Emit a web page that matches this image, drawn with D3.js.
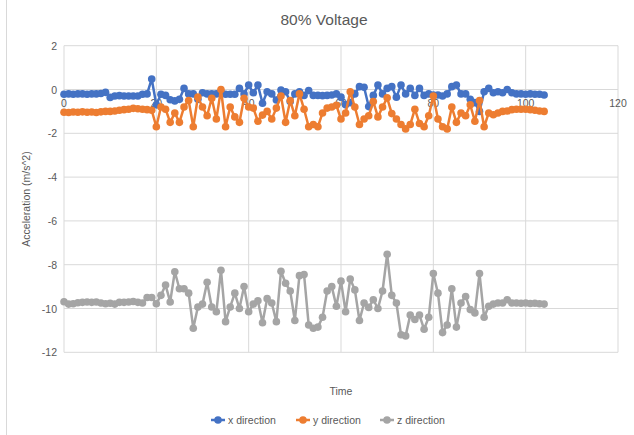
<!DOCTYPE html>
<html>
<head>
<meta charset="utf-8">
<script src="https://cdn.jsdelivr.net/npm/d3@7"></script>
<style>
  body { margin: 0; background: #fff; }
  text { font-family: "Liberation Sans", Arial, sans-serif; fill: #595959; }
</style>
</head>
<body>
<svg id="chart" width="634" height="435"></svg>
<script>
// values, one per time step 0..104
const xDirection = [
  -0.22, -0.2, -0.22, -0.2, -0.2, -0.22, -0.2, -0.2, -0.18, -0.13,
  -0.36, -0.3, -0.28, -0.3, -0.3, -0.3, -0.3, -0.22, -0.2, 0.48,
  -0.7, -0.22, -0.27, -0.47, -0.52, -0.45, 0.05, -0.2, -0.2, -0.45,
  -0.15, -0.2, -0.2, -0.2, -0.1, -0.22, -0.22, -0.22, 0.05, -0.2,
  0.2, -0.15, 0.2, -0.63, -0.1, -0.2, -0.48, -0.02, -0.1, -0.55,
  -0.2, -0.1, -0.27, -0.05, -0.27, -0.27, -0.28, -0.27, -0.25, -0.2,
  -0.35, -0.7, -0.6, -0.2, 0.13, 0.1, -0.78, -0.27, 0.2, -0.2,
  0.05, 0.13, -0.35, 0.2, -0.2, 0.05, -0.27, 0.05, -0.27, -0.2,
  -0.25, -0.25, -0.3, -0.2, 0.13, 0.2, -0.2, -0.2, -0.45, -0.6,
  -1.0, -0.1, 0.05, -0.15, -0.1, -0.15, 0.0, -0.15, -0.2, -0.2,
  -0.22, -0.2, -0.22, -0.22, -0.25
];
const yDirection = [
  -1.04, -1.05, -1.03, -1.04, -1.02, -1.04, -1.03, -1.05, -1.02, -1.0,
  -1.0, -0.98, -0.95, -0.92, -0.9, -0.86, -0.88, -0.9, -0.92, -0.95,
  -1.7, -0.8, -0.9, -1.5, -1.07, -1.5, -0.8, -0.5, -1.7, -0.35,
  -0.8, -1.2, -0.4, -1.35, 0.0, -1.7, -0.8, -1.25, -1.5, -0.4,
  -0.8, -0.85, -1.45, -1.17, -1.0, -1.35, -0.85, -0.3, -1.5, -0.5,
  -1.2, -0.2, -0.9, -1.7, -1.6, -1.7, -1.07, -0.85, -0.8, -0.72,
  -1.35, -1.07, -0.1, -0.8, -1.6, -1.35, -1.2, -0.55, -1.25, -0.8,
  -0.38, -1.1, -1.35, -1.6, -1.8, -1.6, -0.9, -1.55, -1.7, -1.2,
  -0.3, -1.35, -1.7, -1.8, -0.8, -1.5, -1.07, -1.2, -0.7, -1.45,
  -0.5, -1.7, -1.07, -1.15, -1.07, -1.0, -0.98, -0.92, -0.9, -0.9,
  -0.9, -0.92, -0.95, -0.98, -1.0
];
const zDirection = [
  -9.69, -9.8, -9.78, -9.74, -9.72, -9.7, -9.72, -9.7, -9.75, -9.78,
  -9.76, -9.8, -9.72, -9.72, -9.7, -9.68, -9.72, -9.75, -9.5, -9.5,
  -9.78, -9.4, -8.93, -9.7, -8.32, -9.1, -9.1, -9.3, -10.9, -9.93,
  -9.8, -8.8, -9.93, -10.15, -8.25, -10.6, -9.93, -9.3, -10.0, -9.0,
  -10.15, -9.8, -9.65, -10.65, -9.55, -9.75, -10.6, -8.3, -8.85, -9.2,
  -10.55, -8.5, -8.45, -10.75, -10.9, -10.85, -10.4, -9.2, -9.0, -9.9,
  -8.75, -10.15, -8.65, -9.15, -10.55, -9.75, -9.95, -9.6, -10.0, -9.2,
  -7.52, -9.4, -9.75, -11.2, -11.25, -10.3, -10.5, -10.3, -10.95, -10.4,
  -8.4, -9.3, -11.1, -10.75, -9.1, -10.85, -9.75, -9.45, -10.05, -10.2,
  -8.4, -10.4, -9.9, -9.8, -9.75, -9.75, -9.6, -9.75, -9.75, -9.76,
  -9.75, -9.77, -9.76, -9.78, -9.8
];
const timeSteps = d3.range(xDirection.length);
const seriesNames = ["x direction", "y direction", "z direction"];
const seriesColors = ["#4472C4", "#ED7D31", "#A5A5A5"];
const xTicks = [0, 20, 40, 60, 80, 100, 120];
const yTicks = [2, 0, -2, -4, -6, -8, -10, -12];

const svg = d3.select("#chart");

const plotLeft = 64, plotRight = 618, plotTop = 45.7, plotBottom = 352.3;

const x = d3.scaleLinear().domain([0, 120]).range([plotLeft, plotRight]);
const y = d3.scaleLinear().domain([-12, 2]).range([plotBottom, plotTop]);

// chart area border (left edge only shows in the picture)
svg.append("line")
    .attr("x1", 6.5).attr("x2", 6.5).attr("y1", 0).attr("y2", 435)
    .style("stroke", "#d9d9d9").style("stroke-width", 1);

// gridlines
svg.append("g")
    .selectAll("line")
    .data(yTicks)
    .enter().append("line")
    .attr("x1", plotLeft).attr("x2", plotRight)
    .attr("y1", d => y(d)).attr("y2", d => y(d))
    .style("stroke", "#d9d9d9").style("stroke-width", 1);

svg.append("g")
    .selectAll("line")
    .data(xTicks)
    .enter().append("line")
    .attr("x1", d => x(d)).attr("x2", d => x(d))
    .attr("y1", plotTop).attr("y2", plotBottom)
    .style("stroke", "#d9d9d9").style("stroke-width", 1);

// y axis labels
svg.append("g")
    .selectAll("text")
    .data(yTicks)
    .enter().append("text")
    .attr("x", plotLeft - 7)
    .attr("y", d => y(d) + 4)
    .style("text-anchor", "end")
    .style("font-size", "10.5px")
    .text(d => d);

// x axis labels, sitting under the zero line
svg.append("g")
    .selectAll("text")
    .data(xTicks)
    .enter().append("text")
    .attr("x", d => x(d))
    .attr("y", y(0) + 17)
    .style("text-anchor", "middle")
    .style("font-size", "10.5px")
    .text(d => d);

// series
const allSeries = [xDirection, yDirection, zDirection];
const line = d3.line()
    .x((d, i) => x(timeSteps[i]))
    .y(d => y(d));

allSeries.forEach(function (values, s) {
    const g = svg.append("g");
    g.append("path")
        .attr("d", line(values))
        .style("fill", "none")
        .style("stroke", seriesColors[s])
        .style("stroke-width", 2.5)
        .style("stroke-linejoin", "round");
    g.selectAll("circle")
        .data(values)
        .enter().append("circle")
        .attr("cx", (d, i) => x(timeSteps[i]))
        .attr("cy", d => y(d))
        .attr("r", 3.8)
        .style("fill", seriesColors[s]);
});

// title
svg.append("text")
    .attr("x", 324)
    .attr("y", 25)
    .style("text-anchor", "middle")
    .style("font-size", "15.5px")
    .text("80% Voltage");

// axis titles
svg.append("text")
    .attr("x", (plotLeft + plotRight) / 2)
    .attr("y", 395)
    .style("text-anchor", "middle")
    .style("font-size", "10.5px")
    .text("Time");

svg.append("text")
    .attr("transform", "translate(30," + ((plotTop + plotBottom) / 2) + ") rotate(-90)")
    .style("text-anchor", "middle")
    .style("font-size", "10.5px")
    .text("Acceleration (m/s^2)");

// legend
const legendX = [218, 303, 387];
const legend = svg.selectAll(".legend")
    .data(seriesNames)
    .enter().append("g")
    .attr("class", "legend")
    .attr("transform", (d, i) => "translate(" + legendX[i] + ",420)");

legend.append("line")
    .attr("x1", -7).attr("x2", 7)
    .style("stroke", (d, i) => seriesColors[i])
    .style("stroke-width", 2.5);

legend.append("circle")
    .attr("r", 3.8)
    .style("fill", (d, i) => seriesColors[i]);

legend.append("text")
    .attr("x", 10)
    .attr("y", 3.8)
    .style("font-size", "10.5px")
    .text(d => d);
</script>
</body>
</html>
